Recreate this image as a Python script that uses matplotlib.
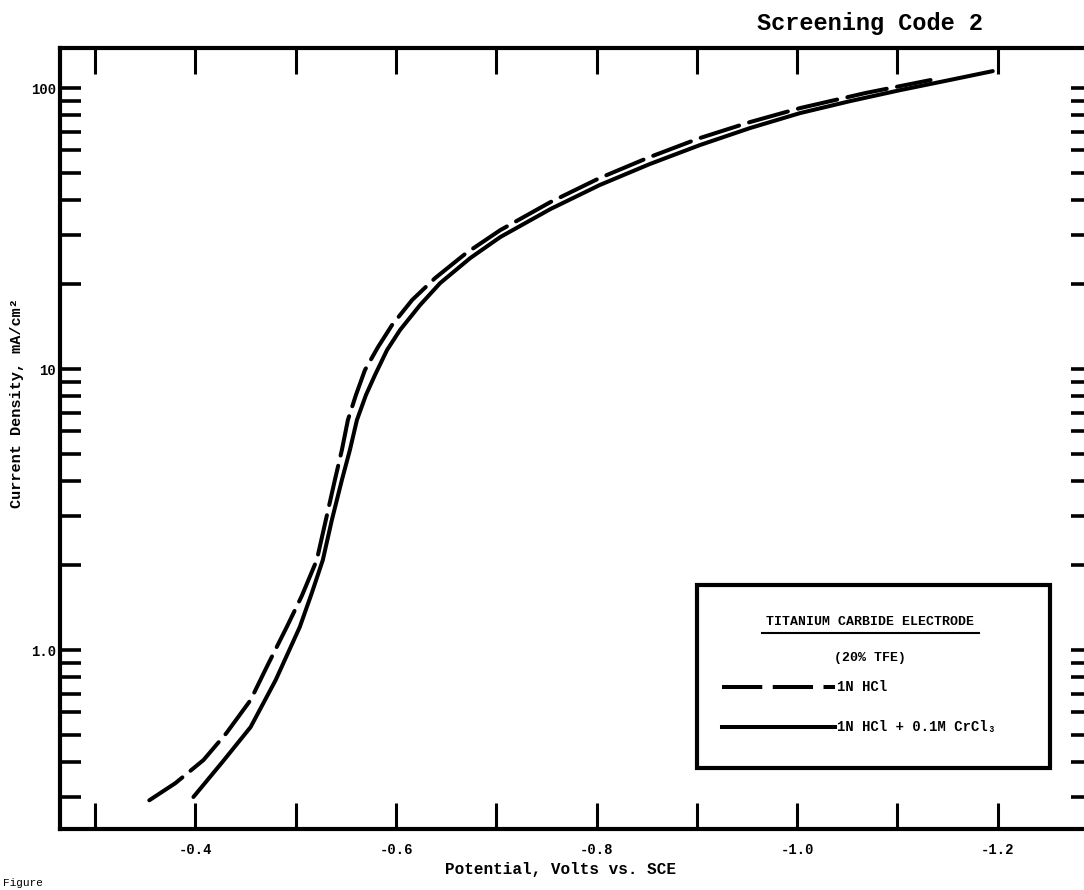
import numpy as np
import matplotlib
matplotlib.use("Agg")
import matplotlib.pyplot as plt
from matplotlib.lines import Line2D
from matplotlib.patches import Rectangle
from matplotlib.ticker import FixedLocator, NullFormatter, FuncFormatter

# Polarization curves, titanium carbide electrode (20% TFE)
potential_hcl = [-0.354, -0.380, -0.408, -0.431, -0.455, -0.472, -0.491, -0.506,
                 -0.521, -0.530, -0.539, -0.546, -0.552, -0.560, -0.569, -0.582,
                 -0.596, -0.616, -0.639, -0.670, -0.704, -0.754, -0.803, -0.853,
                 -0.903, -0.953, -1.003, -1.068, -1.133]
current_hcl = [0.292, 0.336, 0.406, 0.507, 0.664, 0.884, 1.207, 1.557,
               2.091, 2.901, 4.027, 5.150, 6.584, 8.08, 9.92, 11.97,
               14.34, 17.60, 21.08, 25.87, 31.23, 39.29, 47.83, 56.82,
               66.39, 75.68, 84.89, 96.0, 106.8]

potential_cr = [-0.398, -0.427, -0.455, -0.480, -0.504, -0.516, -0.527, -0.536,
                -0.546, -0.554, -0.561, -0.570, -0.579, -0.591, -0.604, -0.624,
                -0.644, -0.674, -0.704, -0.754, -0.803, -0.853, -0.903, -0.953,
                -1.003, -1.053, -1.103, -1.152, -1.195]
current_cr = [0.300, 0.400, 0.532, 0.782, 1.207, 1.595, 2.091, 2.901,
              4.027, 5.150, 6.584, 8.08, 9.52, 11.68, 13.77, 16.90,
              20.23, 24.83, 29.50, 37.11, 45.16, 53.65, 62.68, 72.06,
              81.48, 89.89, 98.38, 106.8, 114.9]

x_ticks = [-0.3, -0.4, -0.5, -0.6, -0.7, -0.8, -0.9, -1.0, -1.1, -1.2]
x_labels = {-0.4: "-0.4", -0.6: "-0.6", -0.8: "-0.8", -1.0: "-1.0", -1.2: "-1.2"}
y_major = [1.0, 10.0, 100.0]
y_labels = {1.0: "1.0", 10.0: "10", 100.0: "100"}

mono = ["Liberation Mono", "DejaVu Sans Mono"]
lw = 2.9
dash = (10, 2.6)

fig = plt.figure(figsize=(10.84, 8.90), dpi=100)
ax = fig.add_axes([0.0554, 0.0685, 0.952, 0.8775])

ax.plot(potential_hcl, current_hcl, color="black", lw=lw, dashes=dash,
        dash_capstyle="round", dash_joinstyle="round")
ax.plot(potential_cr, current_cr, color="black", lw=lw,
        solid_capstyle="round", solid_joinstyle="round")

ax.set_yscale("log")
ax.set_xlim(-0.265, -1.294)
ax.set_ylim(0.2307, 138.8)

# ticks: x every 0.1, y at 1-9 per decade
ax.xaxis.set_major_locator(FixedLocator(x_ticks))
ax.xaxis.set_major_formatter(FuncFormatter(
    lambda v, p: x_labels.get(round(v, 1), "")))
minor_y = [m * 10.0 ** d for d in (-1, 0, 1) for m in range(2, 10)]
ax.yaxis.set_major_locator(FixedLocator(y_major))
ax.yaxis.set_minor_locator(FixedLocator(minor_y))
ax.yaxis.set_major_formatter(FuncFormatter(lambda v, p: y_labels.get(v, "")))
ax.yaxis.set_minor_formatter(NullFormatter())

ax.tick_params(axis="x", which="both", direction="in", length=19, width=2.2,
               top=True, bottom=True, pad=10)
ax.tick_params(axis="y", which="both", direction="in", length=15, width=2.6,
               left=True, right=True, pad=3)
for lab in ax.get_xticklabels() + ax.get_yticklabels():
    lab.set_family(mono)
    lab.set_fontweight("bold")
    lab.set_fontsize(10)

for side in ("left", "bottom", "top"):
    ax.spines[side].set_linewidth(3.0)
ax.spines["right"].set_visible(False)

ax.set_xlabel("Potential, Volts vs. SCE", family=mono, fontweight="bold",
              fontsize=11.5)
ax.xaxis.set_label_coords(0.485, -0.042)
ax.set_ylabel("Current Density, mA/cm²", family=mono, fontweight="bold",
              fontsize=11)
ax.yaxis.set_label_coords(-0.035, 0.545)

fig.text(0.8026, 0.974, "Screening Code 2", family=mono, fontweight="bold",
         fontsize=17, ha="center", va="center")

# legend box
box = Rectangle((0.643, 0.1371), 0.3257, 0.2056, transform=fig.transFigure,
                facecolor="white", edgecolor="black", lw=3.0, zorder=5)
fig.patches.append(box)
fig.text(0.8026, 0.3011, "TITANIUM CARBIDE ELECTRODE", family=mono,
         fontweight="bold", fontsize=9.5, ha="center", va="center", zorder=6)
fig.lines.append(Line2D([0.703, 0.903], [0.2885, 0.2885], transform=fig.transFigure,
                        color="black", lw=1.5, zorder=6))
fig.text(0.8026, 0.2607, "(20% TFE)", family=mono, fontweight="bold",
         fontsize=9.5, ha="center", va="center", zorder=6)
fig.lines.append(Line2D([0.666, 0.770], [0.228, 0.228], transform=fig.transFigure,
                        color="black", lw=lw, dashes=dash, zorder=6))
fig.text(0.772, 0.228, "1N HCl", family=mono, fontweight="bold",
         fontsize=10, ha="left", va="center", zorder=6)
fig.lines.append(Line2D([0.666, 0.770], [0.183, 0.183], transform=fig.transFigure,
                        color="black", lw=lw, zorder=6))
fig.text(0.772, 0.183, "1N HCl + 0.1M CrCl₃", family=mono, fontweight="bold",
         fontsize=10, ha="left", va="center", zorder=6)

fig.text(0.003, 0.002, "Figure", family=mono, fontsize=8, ha="left", va="bottom")

fig.savefig("out.png", dpi=100, facecolor="white")
